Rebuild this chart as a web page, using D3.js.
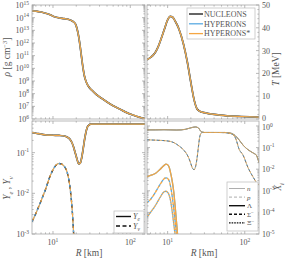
<!DOCTYPE html>
<html><head><meta charset="utf-8">
<script src="https://cdn.jsdelivr.net/npm/d3@7"></script>
<style>
body{margin:0;background:#fff}
text{font-family:"Liberation Serif","DejaVu Serif",serif;fill:#555}
</style>
</head><body>
<svg id="c" width="287" height="260"></svg>
<script>
// ---------------- DATA ----------------
const models = ["NUCLEONS", "HYPERONS", "HYPERONS*"];
const modelColors = ["#111111", "#5aaae2", "#f5a642"];

// density profile (R in km, rho in g/cm^3)
const rhoR   = [5.35, 6, 7, 8, 9, 10, 11, 12, 14, 16, 18, 19.5, 20.5, 21.5, 22.5, 23.5, 24.5, 25.5, 27, 29, 32, 36, 42, 50, 60, 75, 90, 110, 130, 155];
const rhoVal = [3.5e14, 3.3e14, 2.8e14, 2.25e14, 1.8e14, 1.3e14, 1.07e14, 9.5e13, 8.3e13, 7.1e13, 5.2e13, 3.2e13, 1.26e13, 3.2e12, 5e11, 6.3e10, 1e10, 2.5e9, 8e8, 3.5e8, 1.8e8, 9e7, 4.5e7, 2.2e7, 1.1e7, 5.6e6, 3.2e6, 2e6, 1.4e6, 1.05e6];

// temperature profile (MeV)
const tR   = [5.4, 6, 6.5, 7, 7.5, 8, 9, 10, 10.8, 11.5, 12.5, 14, 16, 18, 20, 22, 24, 26, 30, 40, 60, 90, 153];
const tVal = [26, 27, 28, 29.5, 31.5, 34, 39, 43.5, 45, 44.8, 43, 39.5, 33, 25, 16, 8.5, 4.5, 3.4, 2.8, 2.0, 1.4, 1.1, 0.8];

// electron fraction
const yeR   = [5.35, 6, 7, 8, 9, 10, 12, 13.5, 15, 16.5, 17.5, 18.5, 19.5, 20.5, 21.5, 22.5, 23.5, 24.5, 25.5, 26.5, 27.5, 29, 31, 40, 155];
const yeVal = [0.31, 0.30, 0.285, 0.275, 0.27, 0.268, 0.265, 0.26, 0.245, 0.215, 0.18, 0.135, 0.095, 0.068, 0.053, 0.055, 0.075, 0.12, 0.2, 0.3, 0.4, 0.47, 0.5, 0.5, 0.5];

// neutrino fraction
const ynuR   = [5.35, 6, 7, 8, 9, 10, 11, 12, 13, 14, 15, 16, 17, 17.8, 18.5, 19];
const ynuVal = [0.002, 0.0032, 0.0065, 0.0125, 0.024, 0.038, 0.05, 0.054, 0.052, 0.046, 0.036, 0.022, 0.0095, 0.0035, 0.001, 0.0004];

// particle fractions
const nR   = [5.4, 7, 9, 11, 13, 15, 17, 19, 21, 23, 25, 26, 27, 28, 30, 40, 55, 65, 75, 85, 95, 110, 130, 141, 153];
const nVal = [0.66, 0.66, 0.67, 0.66, 0.65, 0.66, 0.7, 0.78, 0.86, 0.9, 0.82, 0.68, 0.56, 0.52, 0.5, 0.5, 0.5, 0.47, 0.36, 0.22, 0.13, 0.08, 0.055, 0.045, 0.02];
const pR   = [5.4, 7, 9, 11, 12, 14, 16, 18, 19, 20, 21, 22, 23, 24, 25, 26, 27, 28, 30, 40, 55, 65, 75, 85, 95, 110, 130, 141, 153];
const pVal = [0.23, 0.22, 0.21, 0.19, 0.17, 0.12, 0.08, 0.045, 0.03, 0.018, 0.011, 0.0095, 0.013, 0.03, 0.1, 0.3, 0.45, 0.5, 0.5, 0.5, 0.49, 0.45, 0.3, 0.08, 0.045, 0.012, 0.004, 0.0025, 0.0018];
const hypR     = [5.4, 6, 7, 8, 9, 9.5, 10, 10.5, 11, 11.5, 12, 12.5, 13, 13.5, 14];
const lamVal   = [0.0045, 0.0052, 0.0065, 0.01, 0.015, 0.017, 0.016, 0.012, 0.006, 0.0026, 0.0009, 0.0002, 0.00004, 0.000008, 0.000001];
const sigVal   = [0.00028, 0.0004, 0.0009, 0.002, 0.0036, 0.004, 0.0037, 0.0028, 0.0014, 0.0005, 0.00015, 0.00004, 0.00001, 0.000003, 0.0000005];
const xiVal    = [0.00006, 0.0001, 0.00022, 0.0005, 0.0009, 0.00095, 0.00085, 0.0006, 0.0003, 0.0001, 0.00003, 0.000009, 0.000003, 0.0000008, 0.0000001];

// axis tick labels
const tTicks = [0, 10, 20, 30, 40, 50];
const rhoExp = [6, 7, 8, 9, 10, 11, 12, 13, 14, 15];
const yeExp  = [-1, -2, -3];
const xExp   = [0, -1, -2, -3, -4, -5];
const rExp   = [1, 2];

// ---------------- DRAW ----------------
const svg = d3.select("#c");
const frameCol = "#a8a8a8", tickCol = "#8a8a8a";

const L = {x0: 32, x1: 145}, Rr = {x0: 147, x1: 259};
const T = {y0: 5, y1: 119}, B = {y0: 121, y1: 234};

const xL = d3.scaleLog().domain([5.35, 155]).range([L.x0, L.x1]);
const xR = d3.scaleLog().domain([5.4, 153]).range([Rr.x0, Rr.x1]);
const yRho = d3.scaleLog().domain([1e6, 1e15]).range([T.y1, T.y0]);
const yT = d3.scaleLinear().domain([0, 50]).range([T.y1, T.y0]);
const yYe = d3.scaleLog().domain([1e-3, 0.6]).range([B.y1, B.y0]);
const yX = d3.scaleLog().domain([1e-5, 1.7]).range([B.y1, B.y0]);

function logTicks(dom) {
  const out = [];
  const lo = Math.floor(Math.log10(dom[0])), hi = Math.ceil(Math.log10(dom[1]));
  for (let d = lo; d <= hi; d++) for (let m = 1; m <= 9; m++) {
    const v = m * Math.pow(10, d);
    if (v >= dom[0] * 0.9999 && v <= dom[1] * 1.0001) out.push({v, major: m === 1});
  }
  return out;
}

let clipId = 0;
function panel(xs, ys, box, yTickList) {
  const g = svg.append("g");
  const id = "clip" + (clipId++);
  svg.append("clipPath").attr("id", id).append("rect")
    .attr("x", box.x0).attr("y", box.y0).attr("width", box.x1 - box.x0).attr("height", box.y1 - box.y0);
  logTicks(xs.domain()).forEach(t => {
    const x = xs(t.v), len = t.major ? 3 : 1.6;
    g.append("line").attr("x1", x).attr("x2", x).attr("y1", box.y1).attr("y2", box.y1 - len).attr("stroke", tickCol).attr("stroke-width", 0.6);
    g.append("line").attr("x1", x).attr("x2", x).attr("y1", box.y0).attr("y2", box.y0 + len).attr("stroke", tickCol).attr("stroke-width", 0.6);
  });
  yTickList.forEach(t => {
    const y = ys(t.v), len = t.major ? 3 : 1.6;
    g.append("line").attr("x1", box.x0).attr("x2", box.x0 + len).attr("y1", y).attr("y2", y).attr("stroke", tickCol).attr("stroke-width", 0.6);
    g.append("line").attr("x1", box.x1).attr("x2", box.x1 - len).attr("y1", y).attr("y2", y).attr("stroke", tickCol).attr("stroke-width", 0.6);
  });
  const plot = svg.append("g").attr("clip-path", `url(#${id})`);
  svg.append("rect").attr("x", box.x0).attr("y", box.y0).attr("width", box.x1 - box.x0).attr("height", box.y1 - box.y0)
    .attr("fill", "none").attr("stroke", frameCol).attr("stroke-width", 0.8);
  return plot;
}

function linTicks(step, minorStep, dom) {
  const out = [];
  for (let v = dom[0]; v <= dom[1] + 1e-9; v += minorStep) out.push({v, major: Math.abs(v / step - Math.round(v / step)) < 1e-6});
  return out;
}

const pTL = panel(xL, yRho, {x0: L.x0, x1: L.x1, y0: T.y0, y1: T.y1}, logTicks(yRho.domain()));
const pTR = panel(xR, yT, {x0: Rr.x0, x1: Rr.x1, y0: T.y0, y1: T.y1}, linTicks(10, 2, [0, 50]));
const pBL = panel(xL, yYe, {x0: L.x0, x1: L.x1, y0: B.y0, y1: B.y1}, logTicks(yYe.domain()));
const pBR = panel(xR, yX, {x0: Rr.x0, x1: Rr.x1, y0: B.y0, y1: B.y1}, logTicks(yX.domain()));

function drawLine(g, xs, ys, R, V, color, width, dash, offset) {
  const data = R.map((r, i) => [r, V[i]]);
  g.append("path").datum(data)
    .attr("d", d3.line().x(d => xs(d[0])).y(d => ys(Math.max(d[1], 1e-9))).curve(d3.curveMonotoneX))
    .attr("fill", "none").attr("stroke", color).attr("stroke-width", width)
    .attr("stroke-dasharray", dash || null).attr("stroke-dashoffset", offset || 0)
    .attr("stroke-linejoin", "round");
}

modelColors.forEach((c, i) => {
  const w = i === 0 ? 1.7 : 1.2;
  drawLine(pTL, xL, yRho, rhoR, rhoVal, c, w);
  drawLine(pTR, xR, yT, tR, tVal, c, w);
  drawLine(pBL, xL, yYe, yeR, yeVal, c, w);
  drawLine(pBL, xL, yYe, ynuR, ynuVal, c, i === 0 ? 1.4 : 1.1, "4,2.5", i * 2.2);
  drawLine(pBR, xR, yX, nR, nVal, c, 0.7);
  drawLine(pBR, xR, yX, pR, pVal, c, 0.7, "3,2", i * 1.5);
});
[1, 2].forEach(i => {
  const c = modelColors[i];
  drawLine(pBR, xR, yX, hypR, lamVal, c, 1.3);
  drawLine(pBR, xR, yX, hypR, sigVal, c, 1.3, "3,2", (i - 1) * 2);
  drawLine(pBR, xR, yX, hypR, xiVal, c, 1.3, "1.6,1", (i - 1) * 1.3);
});

// ---------------- LABELS ----------------
function powLabel(x, y, exp, anchor) {
  const t = svg.append("text").attr("x", x).attr("y", y).attr("text-anchor", anchor).attr("font-size", 8);
  t.append("tspan").text("10");
  t.append("tspan").attr("dy", -3.5).attr("font-size", 5.5).text(exp < 0 ? "-" + (-exp) : String(exp));
  return t;
}
rhoExp.forEach(e => powLabel(29, yRho(Math.pow(10, e)) + 3, e, "end"));
yeExp.forEach(e => powLabel(29, yYe(Math.pow(10, e)) + 3, e, "end"));
tTicks.forEach(v => svg.append("text").attr("x", 262).attr("y", yT(v) + (v === 0 ? 1.5 : 3)).attr("font-size", 8).text(v));
xExp.forEach(e => powLabel(262, yX(Math.pow(10, e)) + (e === 0 ? 4.2 : 3), e, "start"));
rExp.forEach(e => {
  powLabel(xL(Math.pow(10, e)), 245, e, "middle");
  powLabel(xR(Math.pow(10, e)), 245, e, "middle");
});

function rText(x, y, rot, build) {
  const t = svg.append("text").attr("transform", `translate(${x},${y}) rotate(${rot})`).attr("text-anchor", "middle").attr("font-size", 9.5);
  build(t);
}
rText(10, 57, -90, t => {
  t.append("tspan").attr("font-style", "italic").text("ρ");
  t.append("tspan").text("  [g cm");
  t.append("tspan").attr("dy", -3.5).attr("font-size", 6.5).text("−3");
  t.append("tspan").attr("dy", 3.5).text("]");
});
rText(10, 188, -90, t => {
  t.append("tspan").attr("font-style", "italic").text("Y");
  t.append("tspan").attr("dy", 2.5).attr("font-size", 6.5).attr("font-style", "italic").text("e");
  t.append("tspan").attr("dy", -2.5).text(" ,  ");
  t.append("tspan").attr("font-style", "italic").text("Y");
  t.append("tspan").attr("dy", 2.5).attr("font-size", 6.5).attr("font-style", "italic").text("ν");
});
rText(279, 69, -90, t => {
  t.append("tspan").attr("font-style", "italic").text("T");
  t.append("tspan").text("  [MeV]");
});
rText(281, 187, -90, t => {
  t.append("tspan").attr("font-style", "italic").text("X");
  t.append("tspan").attr("dy", 2.5).attr("font-size", 6.5).attr("font-style", "italic").text("i");
});
[[89, 256], [204, 256]].forEach(p => {
  const t = svg.append("text").attr("x", p[0]).attr("y", p[1]).attr("text-anchor", "middle").attr("font-size", 9.5);
  t.append("tspan").attr("font-style", "italic").text("R");
  t.append("tspan").text("  [km]");
});

// ---------------- LEGENDS ----------------
const lg = svg.append("g");
lg.append("rect").attr("x", 187).attr("y", 8).attr("width", 68).attr("height", 31).attr("fill", "#fff").attr("stroke", "#bbb").attr("stroke-width", 0.7);
models.forEach((m, i) => {
  const y = 14 + i * 9.8;
  lg.append("line").attr("x1", 189).attr("x2", 203).attr("y1", y).attr("y2", y).attr("stroke", modelColors[i]).attr("stroke-width", 1.3);
  lg.append("text").attr("x", 204).attr("y", y + 2.8).attr("font-size", 8).attr("fill", "#333").text(m);
});

const yeLegend = [{lab: "e", dash: null}, {lab: "ν", dash: "4,2.5"}];
const lg2 = svg.append("g");
lg2.append("rect").attr("x", 114).attr("y", 211).attr("width", 30).attr("height", 22).attr("fill", "#fff").attr("stroke", "#bbb").attr("stroke-width", 0.7);
yeLegend.forEach((d, i) => {
  const y = 216.5 + i * 9.5;
  lg2.append("line").attr("x1", 116).attr("x2", 131).attr("y1", y).attr("y2", y).attr("stroke", "#111").attr("stroke-width", 1.4).attr("stroke-dasharray", d.dash);
  const t = lg2.append("text").attr("x", 133).attr("y", y + 2.5).attr("font-size", 8).attr("fill", "#333").attr("font-style", "italic");
  t.append("tspan").text("Y");
  t.append("tspan").attr("dy", 2).attr("font-size", 5.5).text(d.lab);
});

const spLegend = [
  {lab: "n", italic: true, col: "#999", w: 0.8, dash: null},
  {lab: "p", italic: true, col: "#999", w: 0.8, dash: "3,2"},
  {lab: "Λ", italic: false, col: "#111", w: 1.4, dash: null},
  {lab: "Σ", sup: "−", italic: false, col: "#111", w: 1.4, dash: "3,2"},
  {lab: "Ξ", sup: "−", italic: false, col: "#111", w: 1.4, dash: "1.6,1"}
];
const lg3 = svg.append("g");
lg3.append("rect").attr("x", 227).attr("y", 182).attr("width", 31).attr("height", 49).attr("fill", "#fff").attr("stroke", "#bbb").attr("stroke-width", 0.7);
spLegend.forEach((d, i) => {
  const y = 188.5 + i * 8.6;
  lg3.append("line").attr("x1", 229).attr("x2", 245).attr("y1", y).attr("y2", y).attr("stroke", d.col).attr("stroke-width", d.w).attr("stroke-dasharray", d.dash);
  const t = lg3.append("text").attr("x", 247).attr("y", y + 2.5).attr("font-size", 7).attr("fill", "#333").attr("font-style", d.italic ? "italic" : "normal");
  t.append("tspan").text(d.lab);
  if (d.sup) t.append("tspan").attr("dy", -2.5).attr("font-size", 5).text(d.sup);
});
</script>
</body></html>
